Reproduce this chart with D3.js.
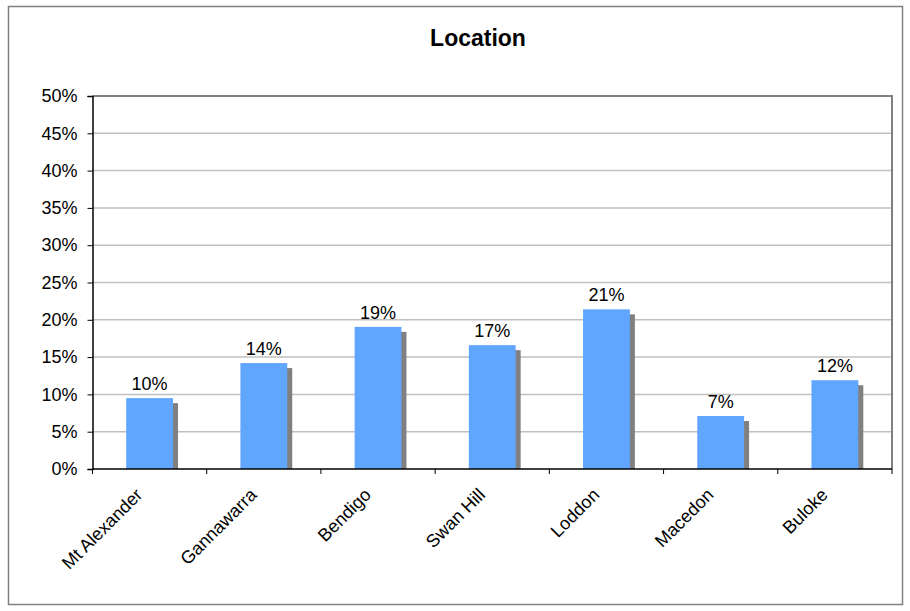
<!DOCTYPE html>
<html><head><meta charset="utf-8">
<script src="https://cdn.jsdelivr.net/npm/d3@7"></script>
<style>body{margin:0;background:#fff;} svg{display:block;} text{font-family:Arial,"Liberation Sans",sans-serif;}</style>
</head><body>
<script>
const categories = ["Mt Alexander","Gannawarra","Bendigo","Swan Hill","Loddon","Macedon","Buloke"];
const values = [9.5, 14.2, 19.05, 16.6, 21.4, 7.1, 11.9];
const valueLabels = ["10%","14%","19%","17%","21%","7%","12%"];
const yTicks = [0,5,10,15,20,25,30,35,40,45,50];
const title = "Location";

const W = 910, H = 611;
const m = {left: 92.5, right: 892, top: 96, bottom: 469};
const svg = d3.select("body").append("svg").attr("width", W).attr("height", H);
svg.append("rect").attr("width", W).attr("height", H).attr("fill", "#fff");
svg.append("rect").attr("x", 8.5).attr("y", 6.5).attr("width", 894).attr("height", 598)
  .attr("fill", "none").attr("stroke", "#808080").attr("stroke-width", 1.5);

svg.append("text").attr("x", 478).attr("y", 46).attr("text-anchor", "middle")
  .attr("font-size", 23).attr("font-weight", "bold").attr("fill", "#000").text(title);

const x = d3.scaleBand().domain(categories).range([m.left, m.right]).paddingInner(0.59).paddingOuter(0.295);
const xb = d3.scaleBand().domain(categories).range([m.left, m.right]);
const y = d3.scaleLinear().domain([0, 50]).range([m.bottom, m.top]);

// gridlines
svg.append("g").selectAll("line").data(yTicks.filter(t => t > 0 && t < 50)).join("line")
  .attr("x1", m.left).attr("x2", m.right).attr("y1", d => y(d)).attr("y2", d => y(d))
  .attr("stroke", "#c0c0c0").attr("stroke-width", 1.5);

// plot border top/right
svg.append("path").attr("d", `M${m.left},${m.top}H${m.right}V${m.bottom}`)
  .attr("fill", "none").attr("stroke", "#808080").attr("stroke-width", 2);

const data = categories.map((c, i) => ({c, v: values[i], l: valueLabels[i]}));

// shadows
svg.append("g").selectAll("rect").data(data).join("rect")
  .attr("x", d => x(d.c) + 5).attr("y", d => y(d.v) + 5)
  .attr("width", x.bandwidth()).attr("height", d => m.bottom - y(d.v) - 5)
  .attr("fill", "#808080");
// bars
svg.append("g").selectAll("rect").data(data).join("rect")
  .attr("x", d => x(d.c)).attr("y", d => y(d.v))
  .attr("width", x.bandwidth()).attr("height", d => m.bottom - y(d.v))
  .attr("fill", "#60a6ff");

// value labels
svg.append("g").selectAll("text").data(data).join("text")
  .attr("x", d => x(d.c) + x.bandwidth() / 2).attr("y", d => y(d.v) - 8)
  .attr("text-anchor", "middle").attr("font-size", 18).attr("fill", "#000").text(d => d.l);

// y axis
const yAxis = d3.axisLeft(y).tickValues(yTicks).tickFormat(d => d + "%").tickSize(5).tickPadding(10);
const gy = svg.append("g").attr("transform", `translate(${m.left},0)`).call(yAxis);
gy.select(".domain").attr("stroke", "#000").attr("stroke-width", 1.5);
gy.selectAll(".tick line").attr("stroke", "#000");
gy.selectAll(".tick text").attr("font-size", 18).attr("fill", "#000").attr("font-family", "Arial,'Liberation Sans',sans-serif");

// x axis
svg.append("line").attr("x1", m.left).attr("x2", m.right).attr("y1", m.bottom).attr("y2", m.bottom)
  .attr("stroke", "#000").attr("stroke-width", 1.5);
const bounds = categories.map(c => xb(c)).concat([m.right]);
svg.append("g").selectAll("line").data(bounds).join("line")
  .attr("x1", d => d).attr("x2", d => d).attr("y1", m.bottom).attr("y2", m.bottom + 5)
  .attr("stroke", "#000");

svg.append("g").selectAll("text").data(categories).join("text")
  .attr("transform", c => `translate(${xb(c) + xb.bandwidth() / 2 - 6},${m.bottom + 27}) rotate(-45)`)
  .attr("text-anchor", "end").attr("font-size", 18).attr("fill", "#000").text(c => c);
</script>
</body></html>
